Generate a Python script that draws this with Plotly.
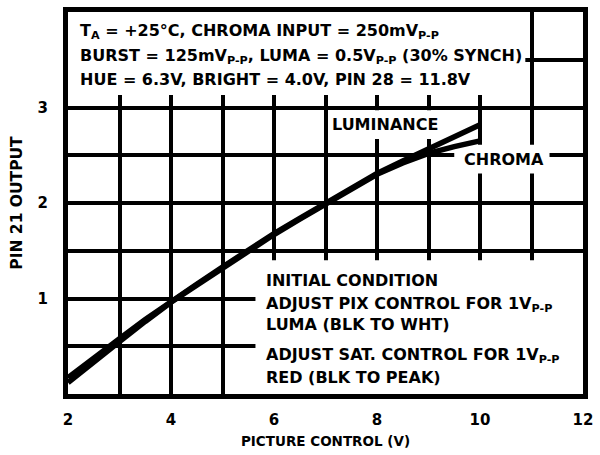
import plotly.graph_objects as go

# Data
picture_control = [2, 2.5, 3, 3.5, 4, 4.5, 5, 5.5, 6, 6.5, 7, 7.5, 8, 8.5, 9, 9.5, 10]
luminance = [0.17, 0.38, 0.58, 0.78, 0.97, 1.15, 1.33, 1.51, 1.68, 1.84, 2.00, 2.16, 2.31, 2.44, 2.57, 2.70, 2.82]
chroma = [0.12, 0.34, 0.55, 0.76, 0.96, 1.14, 1.32, 1.50, 1.67, 1.83, 1.99, 2.15, 2.30, 2.42, 2.52, 2.59, 2.65]

x_tickvals = [2, 3, 4, 5, 6, 7, 8, 9, 10, 11, 12]
x_ticktext = ["2", "", "4", "", "6", "", "8", "", "10", "", "12"]
y_tickvals = [0, 0.5, 1, 1.5, 2, 2.5, 3, 3.5, 4]
y_ticktext = ["", "", "1", "", "2", "", "3", "", ""]

top_lines = [
    "T<sub>A</sub> = +25°C, CHROMA INPUT = 250mV<sub>P-P</sub>",
    "BURST = 125mV<sub>P-P</sub>, LUMA = 0.5V<sub>P-P</sub> (30% SYNCH)",
    "HUE = 6.3V, BRIGHT = 4.0V, PIN 28 = 11.8V",
]
bottom_lines = [
    "INITIAL CONDITION",
    "ADJUST PIX CONTROL FOR 1V<sub>P-P</sub>",
    "LUMA (BLK TO WHT)",
    "ADJUST SAT. CONTROL FOR 1V<sub>P-P</sub>",
    "RED (BLK TO PEAK)",
]

FONT = "DejaVu Sans, Liberation Sans, sans-serif"

def bold(labels):
    return ["<b>" + s + "</b>" if s else "" for s in labels]

fig = go.Figure()
fig.add_trace(go.Scatter(x=picture_control, y=luminance, mode="lines",
                         line=dict(color="black", width=5.5), name="LUMINANCE",
                         hoverinfo="skip"))
fig.add_trace(go.Scatter(x=picture_control, y=chroma, mode="lines",
                         line=dict(color="black", width=5.5), name="CHROMA",
                         hoverinfo="skip"))

# white boxes hiding grid
boxes = [
    (2, 3.13, 10.88, 4),
    (5.64, 0, 12, 1.40),
    (7.1, 2.67, 9.8, 2.97),
    (9.5, 2.31, 11.35, 2.61),
]
for x0, y0, x1, y1 in boxes:
    fig.add_shape(type="rect", x0=x0, y0=y0, x1=x1, y1=y1, xref="x", yref="y",
                  fillcolor="white", line=dict(width=0), layer="between")

anns = []
top_y = [3.80, 3.53, 3.29]
for t, yy in zip(top_lines, top_y):
    anns.append(dict(x=2.19, y=yy, text="<b>" + t + "</b>", xanchor="left",
                     yanchor="middle", showarrow=False))
bot_y = [1.19, 0.94, 0.73, 0.40, 0.17]
for t, yy in zip(bottom_lines, bot_y):
    anns.append(dict(x=5.8, y=yy, text="<b>" + t + "</b>", xanchor="left",
                     yanchor="middle", showarrow=False))
anns.append(dict(x=8.15, y=2.82, text="<b>LUMINANCE</b>", showarrow=False))
anns.append(dict(x=10.46, y=2.46, text="<b>CHROMA</b>", showarrow=False))

fig.update_layout(
    width=600, height=455,
    margin=dict(l=68, r=13, t=7, b=56),
    paper_bgcolor="white", plot_bgcolor="white",
    showlegend=False,
    font=dict(family=FONT, size=16, color="black"),
    annotations=anns,
    xaxis=dict(range=[2, 12], tickvals=x_tickvals, ticktext=bold(x_ticktext),
               showgrid=True, gridcolor="black", gridwidth=4,
               showline=True, linecolor="black", linewidth=5, mirror=True,
               zeroline=False, ticks="", ticklabelstandoff=8,
               tickfont=dict(family=FONT, size=15, weight="bold"),
               title=dict(text="<b>PICTURE CONTROL (V)</b>", standoff=10,
                          font=dict(family=FONT, size=13.5))),
    yaxis=dict(range=[0, 4], tickvals=y_tickvals, ticktext=bold(y_ticktext),
               showgrid=True, gridcolor="black", gridwidth=4,
               showline=True, linecolor="black", linewidth=5, mirror=True,
               zeroline=False, ticks="", ticklabelstandoff=12,
               tickfont=dict(family=FONT, size=15, weight="bold"),
               title=dict(text="<b>PIN 21 OUTPUT</b>", standoff=13,
                          font=dict(family=FONT, size=15.5))),
)

fig.write_html("out.html", config={"displayModeBar": False},
               post_script="document.body.style.margin='0';")
